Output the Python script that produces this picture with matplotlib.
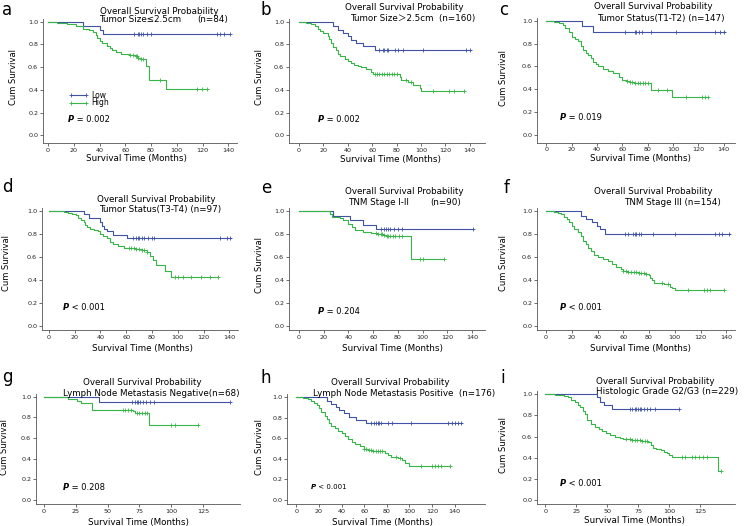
import numpy as np
import matplotlib.pyplot as plt
from matplotlib.lines import Line2D

W, H = 746, 526
BLUE = '#3f52a3'
GREEN = '#38b548'

# ---- survival curves: step times, survival after each step, censor times ----
a_low_t = [0, 27, 40, 43, 141]
a_low_s = [1.0, 0.96, 0.93, 0.89, 0.89]
a_low_c = [67, 70, 71, 72.5, 74, 76.5, 80, 131, 133.5, 137, 141]
a_high_t = [0, 7, 15, 22, 27, 32, 35, 37, 38, 40, 42, 46, 48, 50, 53, 57, 63, 68, 70, 72, 76, 78.5, 91.5, 124.5]
a_high_s = [1.0, 0.99, 0.98, 0.96, 0.94, 0.93, 0.91, 0.88, 0.86, 0.83, 0.81, 0.79, 0.77, 0.75, 0.73, 0.72,
            0.71, 0.70, 0.68, 0.67, 0.61, 0.49, 0.41, 0.41]
a_high_c = [64, 66, 68, 69, 70, 72, 74, 87, 115.5, 119.5, 123.5]

b_low_t = [0, 28, 32, 36, 40, 43, 47, 52.5, 62, 141]
b_low_s = [1.0, 0.96, 0.93, 0.90, 0.87, 0.84, 0.81, 0.79, 0.75, 0.75]
b_low_c = [66, 69, 70, 72, 73, 78.5, 81, 85, 102, 137, 140]
b_high_t = [0, 6, 10, 13, 15.5, 17, 20, 24, 25, 26.5, 28, 30, 32, 34, 37.5, 40, 43, 45.5, 48, 51, 55, 59, 61,
            82.5, 84, 89, 93.5, 99, 100, 135]
b_high_s = [1.0, 0.99, 0.98, 0.96, 0.94, 0.92, 0.90, 0.87, 0.85, 0.81, 0.78, 0.75, 0.72, 0.70, 0.67, 0.65,
            0.64, 0.62, 0.61, 0.60, 0.58, 0.56, 0.54, 0.51, 0.49, 0.47, 0.44, 0.42, 0.39, 0.39]
b_high_c = [62, 64, 66, 68, 70, 72, 74, 76, 78, 80, 88, 92, 110, 123, 127, 135]

c_low_t = [0, 28, 36.5, 141]
c_low_s = [1.0, 0.95, 0.905, 0.905]
c_low_c = [62, 70, 71, 73, 75.5, 83, 102, 133, 137, 140]
c_high_t = [0, 6, 10, 13, 15, 18, 20, 23, 25, 27, 29, 31, 33, 35, 37, 39, 41, 45, 49, 53, 57, 60, 63, 66, 69,
            82.5, 99.5, 127.5]
c_high_s = [1.0, 0.99, 0.98, 0.96, 0.94, 0.90, 0.86, 0.84, 0.82, 0.78, 0.74, 0.72, 0.70, 0.67, 0.64, 0.62,
            0.60, 0.58, 0.56, 0.54, 0.51, 0.48, 0.47, 0.46, 0.455, 0.39, 0.335, 0.335]
c_high_c = [64, 66, 68, 70, 72, 74, 76, 78, 80, 88, 95, 110, 123, 125, 127.5]

d_low_t = [0, 27.5, 31, 40, 41, 43, 45, 50, 60.5, 141]
d_low_s = [1.0, 0.97, 0.94, 0.905, 0.87, 0.84, 0.82, 0.79, 0.76, 0.76]
d_low_c = [65, 67.5, 69, 70, 72, 73.5, 77, 80, 81.5, 133, 138, 140.5]
d_high_t = [0, 10, 12, 15, 18, 21, 23, 25, 27, 28, 30, 32, 35, 38, 40, 42, 45, 47.5, 50, 54, 58, 64, 68, 72,
            76, 78.5, 81, 83, 90, 94.5, 131]
d_high_s = [1.0, 0.995, 0.99, 0.98, 0.97, 0.96, 0.94, 0.92, 0.90, 0.88, 0.86, 0.84, 0.83, 0.82, 0.80, 0.78,
            0.76, 0.73, 0.71, 0.69, 0.68, 0.675, 0.665, 0.66, 0.645, 0.61, 0.57, 0.53, 0.48, 0.42, 0.42]
d_high_c = [62, 64, 66, 68, 70, 72, 74, 76, 98, 100, 104, 110, 118, 125, 131]

e_low_t = [0, 27.5, 41.5, 52, 62, 141]
e_low_s = [1.0, 0.96, 0.92, 0.88, 0.84, 0.84]
e_low_c = [66.5, 69, 70.5, 72, 73.5, 77, 80, 83, 141]
e_high_t = [0, 25, 27, 33, 36, 40, 43, 45, 52, 58, 63, 68, 70, 91, 117]
e_high_s = [1.0, 0.97, 0.945, 0.94, 0.92, 0.89, 0.86, 0.835, 0.82, 0.81, 0.80, 0.79, 0.78, 0.585, 0.585]
e_high_c = [62, 64, 66, 67, 69, 71, 72, 74, 76, 78, 81, 83, 98, 100, 117]

f_low_t = [0, 27.5, 31, 35.5, 39.5, 42, 45.5, 142.5]
f_low_s = [1.0, 0.96, 0.93, 0.90, 0.87, 0.84, 0.80, 0.80]
f_low_c = [61.5, 64, 67.5, 69, 70, 72, 74, 83, 100.5, 131.5, 134, 136.5, 142]
f_high_t = [0, 6, 9, 12, 14, 16, 18, 20, 22, 25, 27, 29, 31, 33, 35, 37, 40, 44, 48, 51, 54, 58, 60, 64, 68,
            72, 78, 80, 81, 82, 84, 92, 96, 98, 100, 138.5]
f_high_s = [1.0, 0.99, 0.98, 0.97, 0.95, 0.93, 0.90, 0.87, 0.84, 0.82, 0.78, 0.74, 0.71, 0.68, 0.65, 0.62,
            0.60, 0.58, 0.56, 0.54, 0.51, 0.49, 0.475, 0.47, 0.465, 0.46, 0.455, 0.44, 0.42, 0.40, 0.37, 0.36,
            0.34, 0.33, 0.31, 0.31]
f_high_c = [60, 62, 64, 66, 68, 70, 72, 74, 76, 78, 90, 95, 110, 123, 125, 127, 138.5]

g_low_t = [0, 43, 146]
g_low_s = [1.0, 0.95, 0.95]
g_low_c = [69, 71.5, 73, 74, 75.5, 78, 80.5, 83, 86, 146]
g_high_t = [0, 19, 26, 29, 37.5, 70, 71.5, 82.5, 121]
g_high_s = [1.0, 0.98, 0.96, 0.94, 0.875, 0.86, 0.845, 0.725, 0.725]
g_high_c = [62, 64, 66, 68, 73, 75, 77, 79, 81, 100, 103, 121]

h_low_t = [0, 27.5, 31, 35, 38, 42.5, 46.5, 53, 62, 146.5]
h_low_s = [1.0, 0.96, 0.93, 0.90, 0.87, 0.84, 0.81, 0.78, 0.75, 0.75]
h_low_c = [66, 68.5, 70.5, 72, 73.5, 75, 81, 84.5, 101.5, 134, 137.5, 140, 142.5, 146]
h_high_t = [0, 6, 10, 13, 16, 18, 20, 22, 25, 27, 29, 31, 34, 37, 40, 43, 46, 49, 52, 56, 60, 63, 68, 74,
            78, 81, 84, 90, 93, 96, 100, 135.5]
h_high_s = [1.0, 0.99, 0.98, 0.96, 0.94, 0.92, 0.89, 0.85, 0.82, 0.79, 0.75, 0.72, 0.70, 0.67, 0.65, 0.62,
            0.59, 0.56, 0.54, 0.52, 0.50, 0.49, 0.48, 0.475, 0.46, 0.44, 0.42, 0.41, 0.39, 0.36, 0.33, 0.33]
h_high_c = [60, 62, 64, 66, 68, 70, 72, 74, 76, 88, 92, 110, 120, 123, 125, 128, 135.5]

i_low_t = [0, 41.5, 44, 47.5, 54, 108]
i_low_s = [1.0, 0.97, 0.93, 0.895, 0.865, 0.865]
i_low_c = [68, 70, 72, 73.5, 74.5, 76, 77.5, 79.5, 82, 84.5, 88.5, 108]
i_high_t = [0, 8, 12, 15, 18, 21, 24, 26, 28, 30, 32, 34, 37, 40, 43, 46, 49, 52, 56, 60, 63, 66, 70, 74,
            78, 83, 85, 87, 89, 93, 96, 98, 100, 102, 139, 142]
i_high_s = [1.0, 0.995, 0.99, 0.98, 0.97, 0.95, 0.93, 0.90, 0.88, 0.84, 0.81, 0.76, 0.72, 0.69, 0.67, 0.65,
            0.63, 0.615, 0.60, 0.585, 0.58, 0.575, 0.57, 0.565, 0.56, 0.545, 0.52, 0.49, 0.48, 0.47, 0.455,
            0.44, 0.43, 0.41, 0.27, 0.27]
i_high_c = [65, 68, 70, 72, 74, 76, 78, 80, 82, 110, 113, 118, 121, 124, 127, 130, 142]

panel_letters = ['a', 'b', 'c', 'd', 'e', 'f', 'g', 'h', 'i']
subtitles = [['Tumor Size\u22642.5cm', '(n=84)'],
             ['Tumor Size\uff1e2.5cm  (n=160)'],
             ['Tumor Status(T1-T2) (n=147)'],
             ['Tumor Status(T3-T4) (n=97)'],
             ['TNM Stage I-II', '(n=90)'],
             ['TNM Stage III (n=154)'],
             ['Lymph Node Metastasis Negative(n=68)'],
             ['Lymph Node Metastasis Positive  (n=176)'],
             ['Histologic Grade G2/G3 (n=229)']]
p_values = ['= 0.002', '= 0.002', '= 0.019', '< 0.001', '= 0.204', '< 0.001', '= 0.208', '< 0.001', '< 0.001']
x_ticks_140 = [0, 20, 40, 60, 80, 100, 120, 140]
x_ticks_125 = [0, 25, 50, 75, 100, 125]
y_ticks = [0.0, 0.2, 0.4, 0.6, 0.8, 1.0]

curves = [
    ((a_low_t, a_low_s, a_low_c), (a_high_t, a_high_s, a_high_c)),
    ((b_low_t, b_low_s, b_low_c), (b_high_t, b_high_s, b_high_c)),
    ((c_low_t, c_low_s, c_low_c), (c_high_t, c_high_s, c_high_c)),
    ((d_low_t, d_low_s, d_low_c), (d_high_t, d_high_s, d_high_c)),
    ((e_low_t, e_low_s, e_low_c), (e_high_t, e_high_s, e_high_c)),
    ((f_low_t, f_low_s, f_low_c), (f_high_t, f_high_s, f_high_c)),
    ((g_low_t, g_low_s, g_low_c), (g_high_t, g_high_s, g_high_c)),
    ((h_low_t, h_low_s, h_low_c), (h_high_t, h_high_s, h_high_c)),
    ((i_low_t, i_low_s, i_low_c), (i_high_t, i_high_s, i_high_c)),
]

# layout in pixels: spine left, axis right, axis bottom, px of tick 0, px of last tick, last tick value,
# px of y=1.0, px of y=0.0
geom = [
    (43, 237, 143, 48, 228.3, 140, 21.7, 135.3),
    (289, 485, 143, 299, 469.7, 140, 21.7, 135.3),
    (537, 735, 142.5, 546.3, 723.7, 140, 20.7, 135),
    (42, 238, 330, 48.7, 229.3, 140, 210.7, 325.7),
    (289, 485, 330, 299, 472, 140, 211, 325.7),
    (537, 735, 330, 546, 726.3, 140, 211, 325.7),
    (36, 240, 504.3, 43.7, 203.3, 125, 396.7, 500),
    (287, 485, 504.3, 296.3, 454.7, 140, 397, 500),
    (537, 735, 504.3, 545.3, 700.3, 125, 394.3, 500),
]
title_pos = [(100, 12, [99, 197], 19.5), (345, 8, [350], 18.5), (594, 6.5, [597], 18.5),
             (97, 199, [99], 209.5), (345, 192, [348, 430], 202.5), (594, 192, [624], 202.5),
             (83, 382.5, [63], 393), (331, 382.5, [313], 393), (596, 381.5, [596], 392)]
letter_pos = [(2, 15), (260, 15), (499, 15), (2, 192), (261, 193), (504, 193), (2, 382), (261, 383), (500, 383)]
ylabel_pos = [(13, 77), (260, 77), (504, 78), (7, 263), (260, 265), (504, 263), (5, 447), (260, 447), (504, 445)]
xlabel_pos = [(137, 159), (391, 159.5), (641, 159), (143, 348.5), (393, 348.5), (640, 348.5),
              (139, 523), (382, 522.5), (635, 520)]
p_pos = [(68, 119), (318, 120), (560, 117), (63, 307), (318, 311), (560, 307), (63, 487), (311, 487), (560, 483)]

fig = plt.figure(figsize=(W / 100, H / 100), dpi=100)


def fx(px):
    return px / W


def fy(py):
    return 1 - py / H


def km(ax, t, s, cens, color):
    t = np.asarray(t, float)
    s = np.asarray(s, float)
    ax.step(t, s, where='post', color=color, lw=0.8)
    c = np.asarray(cens, float)
    cs = s[np.searchsorted(t, c, side='right') - 1]
    ax.plot(c, cs, ls='none', marker='+', ms=3, mew=0.6, color=color)


for k in range(9):
    left, right, bottom, px0, px1, v1, py1, py0 = geom[k]
    top = py1 - 3
    ax = fig.add_axes([fx(left), fy(bottom), (right - left) / W, (bottom - top) / H])
    dpx = v1 / (px1 - px0)
    ax.set_xlim(-(px0 - left) * dpx, (right - px0) * dpx)
    dpy = 1 / (py0 - py1)
    ax.set_ylim(-(bottom - py0) * dpy, 1 + (py1 - top) * dpy)

    low, high = curves[k]
    km(ax, *low, BLUE)
    km(ax, *high, GREEN)

    ax.set_xticks(x_ticks_140 if v1 == 140 else x_ticks_125)
    ax.set_yticks(y_ticks)
    ax.set_yticklabels([f'{v:.1f}' for v in y_ticks])
    for side in ('top', 'right'):
        ax.spines[side].set_visible(False)
    for side in ('left', 'bottom'):
        ax.spines[side].set_linewidth(0.6)
        ax.spines[side].set_color('#555555')
    ax.tick_params(direction='out', length=2.5, width=0.6, color='#555555', labelsize=4.6, pad=1.0,
                   labelcolor='#222222')

    # titles
    tx, ty, sx, sy = title_pos[k]
    fig.text(fx(tx), fy(ty), 'Overall Survival Probability', fontsize=6.3, ha='left', va='center')
    for x, s in zip(sx, subtitles[k]):
        fig.text(fx(x), fy(sy), s, fontsize=6.3, ha='left', va='center',
                 family=['DejaVu Sans', 'Noto Sans CJK SC'])

    lx, ly = letter_pos[k]
    fig.text(fx(lx), fy(ly), panel_letters[k], fontsize=12, ha='left', va='baseline')

    yx, yy = ylabel_pos[k]
    fig.text(fx(yx), fy(yy), 'Cum Survival', fontsize=6, rotation=90, ha='center', va='center',
             family=['Liberation Sans Narrow', 'DejaVu Sans'])

    xx, xy = xlabel_pos[k]
    fig.text(fx(xx), fy(xy), 'Survival Time (Months)', fontsize=6.3, ha='center', va='center')

    ppx, ppy = p_pos[k]
    psize = 5 if k == 7 else 6
    pt = fig.text(fx(ppx), fy(ppy), 'P', fontsize=psize, fontweight='bold', style='italic',
                  ha='left', va='center')
    ax.annotate(' ' + p_values[k], xy=(1, 0), xycoords=pt, va='bottom', ha='left', fontsize=psize)

    if k == 0:
        handles = [Line2D([], [], color=BLUE, lw=0.8, marker='+', ms=3, mew=0.6),
                   Line2D([], [], color=GREEN, lw=0.8, marker='+', ms=3, mew=0.6)]
        ax.legend(handles, ['Low', 'High'], fontsize=5.5, frameon=False, numpoints=2, handlelength=2.6,
                  handletextpad=0.4, labelspacing=-0.15, borderpad=0, loc='center left',
                  bbox_to_anchor=(fx(65), fy(99)), bbox_transform=fig.transFigure)

fig.savefig('out.png', dpi=100)
